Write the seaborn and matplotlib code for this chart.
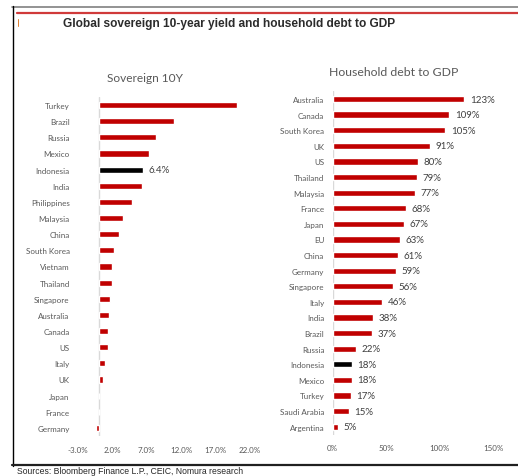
import matplotlib
matplotlib.use("Agg")
import matplotlib.pyplot as plt
import seaborn as sns
import pandas as pd
from matplotlib.lines import Line2D

# ---- data ----
sov_countries = ["Turkey", "Brazil", "Russia", "Mexico", "Indonesia", "India",
                 "Philippines", "Malaysia", "China", "South Korea", "Vietnam",
                 "Thailand", "Singapore", "Australia", "Canada", "US", "Italy",
                 "UK", "Japan", "France", "Germany"]
sov_yield = [20.1, 11.0, 8.3, 7.3, 6.4, 6.3, 4.9, 3.5, 2.9, 2.2, 2.0,
             1.9, 1.6, 1.5, 1.4, 1.3, 0.9, 0.7, 0.0, 0.05, -0.4]
sov_ticks = [-3, 2, 7, 12, 17, 22]
sov_tick_labels = ["-3.0%", "2.0%", "7.0%", "12.0%", "17.0%", "22.0%"]

hh_countries = ["Australia", "Canada", "South Korea", "UK", "US", "Thailand",
                "Malaysia", "France", "Japan", "EU", "China", "Germany",
                "Singapore", "Italy", "India", "Brazil", "Russia", "Indonesia",
                "Mexico", "Turkey", "Saudi Arabia", "Argentina"]
hh_debt = [123, 109, 105, 91, 80, 79, 77, 68, 67, 63, 61, 59, 56, 46, 38, 37,
           22, 18, 18, 17, 15, 5]
hh_ticks = [0, 50, 100, 150]
hh_tick_labels = ["0%", "50%", "100%", "150%"]

highlight = "Indonesia"
RED = "#C00000"
BLACK = "#000000"
GREY_TXT = "#595959"
LABEL_TXT = "#404040"

sns.set_theme(style="white")
plt.rcParams["font.family"] = ["Lato", "DejaVu Sans"]

W, H = 518, 477
fig = plt.figure(figsize=(W / 100, H / 100), dpi=100)


def ax_at(x0, y0, x1, y1):
    return fig.add_axes([x0 / W, 1 - y1 / H, (x1 - x0) / W, (y1 - y0) / H])


# ---- left chart ----
df1 = pd.DataFrame({"country": sov_countries, "value": sov_yield})
pal1 = {c: (BLACK if c == highlight else RED) for c in sov_countries}
ax1 = ax_at(78, 98, 250, 437)
sns.barplot(data=df1, y="country", x="value", hue="country", palette=pal1,
            order=sov_countries, hue_order=sov_countries, legend=False,
            width=0.38, saturation=1, ax=ax1)
ax1.set_xlim(-3, 22)
ax1.set_ylim(len(sov_countries) - 0.5, -0.5)
ax1.axvline(0, color="#d9d9d9", lw=1, zorder=0)
ax1.set_xticks(sov_ticks)
ax1.set_xticklabels(sov_tick_labels)
ax1.set_xlabel("")
ax1.set_ylabel("")
ax1.tick_params(axis="both", length=0, labelsize=5.8, colors=GREY_TXT)
ax1.tick_params(axis="y", pad=6)
ax1.tick_params(axis="x", pad=7)
for s in ax1.spines.values():
    s.set_visible(False)
idx = sov_countries.index(highlight)
ax1.annotate(f"{sov_yield[idx]:.1f}%", xy=(sov_yield[idx], idx),
             xytext=(4, 0), textcoords="offset points", va="center",
             ha="left", fontsize=7, color=LABEL_TXT)
fig.text(145 / W, 1 - 78 / H, "Sovereign 10Y", ha="center", va="center",
         fontsize=8.6, color=GREY_TXT)

# ---- right chart ----
df2 = pd.DataFrame({"country": hh_countries, "value": hh_debt})
pal2 = {c: (BLACK if c == highlight else RED) for c in hh_countries}
ax2 = ax_at(332.7, 92.2, 493.3, 435.5)
sns.barplot(data=df2, y="country", x="value", hue="country", palette=pal2,
            order=hh_countries, hue_order=hh_countries, legend=False,
            width=0.4, saturation=1, ax=ax2)
ax2.set_xlim(0, 150)
ax2.set_ylim(len(hh_countries) - 0.5, -0.5)
ax2.axvline(0, color="#d9d9d9", lw=1, zorder=0)
ax2.set_xticks(hh_ticks)
ax2.set_xticklabels(hh_tick_labels)
ax2.set_xlabel("")
ax2.set_ylabel("")
ax2.tick_params(axis="both", length=0, labelsize=5.8, colors=GREY_TXT)
ax2.tick_params(axis="y", pad=6)
ax2.tick_params(axis="x", pad=7)
for s in ax2.spines.values():
    s.set_visible(False)
for cont in ax2.containers:
    ax2.bar_label(cont, fmt="%d%%", padding=4, fontsize=7, color=LABEL_TXT)
fig.text(394 / W, 1 - 72 / H, "Household debt to GDP", ha="center",
         va="center", fontsize=8.8, color=GREY_TXT)

# ---- frame & title ----
def hline(y, x0, x1, color, lw):
    fig.add_artist(Line2D([x0 / W, x1 / W], [1 - y / H, 1 - y / H],
                          color=color, lw=lw, transform=fig.transFigure))


def vline(x, y0, y1, color, lw):
    fig.add_artist(Line2D([x / W, x / W], [1 - y0 / H, 1 - y1 / H],
                          color=color, lw=lw, transform=fig.transFigure))


hline(7.5, 12, W, "#808080", 1.2)
hline(13.5, 16.5, W, "#d03a3a", 1.6)
vline(12.5, 7, 466.5, "#000000", 1.0)
vline(17.5, 20, 26.5, "#e08030", 0.7)
hline(466.3, 12, W, "#202020", 1.6)

fig.text(63 / W, 1 - 24 / H, "Global sovereign 10-year yield and household debt to GDP",
         ha="left", va="center", fontsize=8.6, fontweight="bold",
         color="#2b2b2b", family=["Liberation Sans", "DejaVu Sans"])
fig.text(17 / W, 1 - 476.5 / H, "Sources: Bloomberg Finance L.P., CEIC, Nomura research",
         ha="left", va="bottom", fontsize=6.2, color="#262626",
         family=["Liberation Sans", "DejaVu Sans"])

fig.savefig("out.png", dpi=100)
